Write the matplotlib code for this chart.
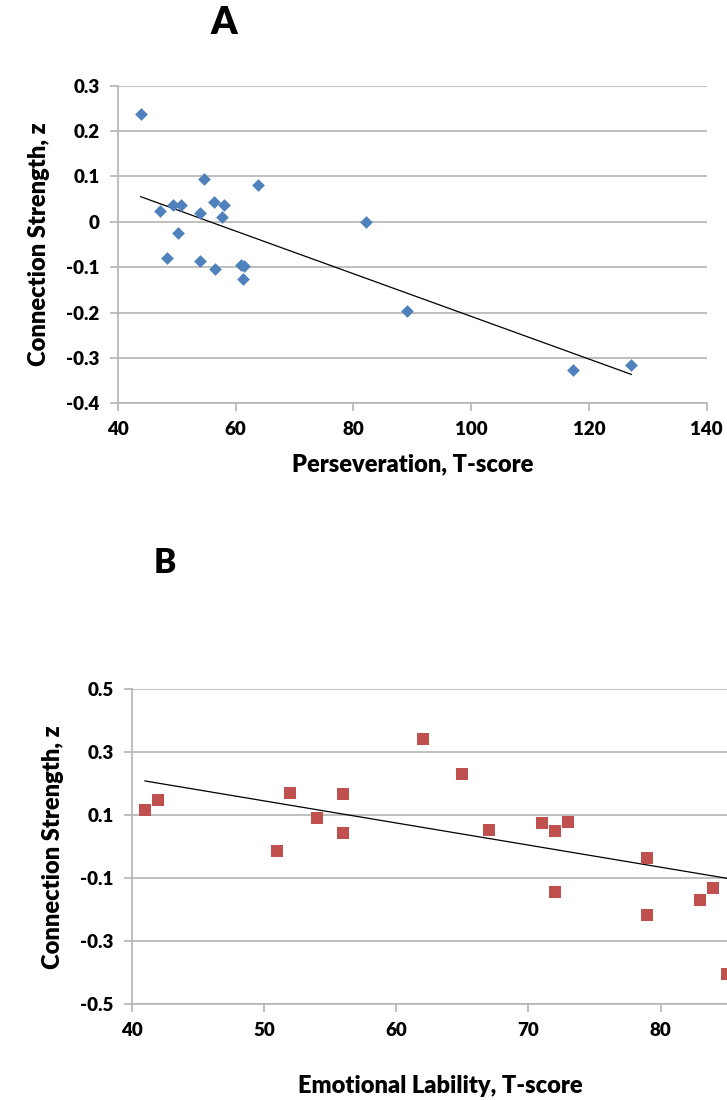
import numpy as np
import matplotlib
matplotlib.use("Agg")
import matplotlib.pyplot as plt
from matplotlib.ticker import FuncFormatter

plt.rcParams['font.family'] = ['Lato', 'DejaVu Sans']
plt.rcParams['font.weight'] = 'bold'
plt.rcParams['axes.unicode_minus'] = False

# panel A: perseveration vs connection strength
persev_t = [43.9, 47.2, 48.3, 49.4, 50.7, 50.3, 54.0, 54.0, 54.6, 56.4, 56.5,
            58.1, 57.7, 61.0, 61.5, 61.3, 63.8, 82.1, 89.2, 117.3, 127.2]
persev_z = [0.238, 0.024, -0.079, 0.037, 0.038, -0.025, 0.020, -0.086, 0.094, 0.043, -0.104,
            0.038, 0.010, -0.095, -0.097, -0.125, 0.082, 0.0, -0.196, -0.326, -0.316]

# panel B: emotional lability vs connection strength
emo_t = [41, 42, 51, 52, 54, 56, 56, 62, 65, 67, 71, 72, 72, 73, 79, 79, 83, 84, 85]
emo_z = [0.116, 0.149, -0.014, 0.170, 0.092, 0.167, 0.043, 0.342, 0.231, 0.054, 0.077,
         0.049, -0.145, 0.080, -0.037, -0.217, -0.169, -0.131, -0.405]
# trend line of B (part of the data is cut off at the right)
emo_trend = [-0.00702, 0.4968]
emo_trend_x = [41, 90]

GRID = '#b4b4b4'
BLUE = '#4f81bd'
RED = '#c0504d'

def fmt(v, pos):
    v = round(v, 2)
    if abs(v) < 1e-9:
        return '0'
    return '%g' % v

def style(ax):
    for s in ['top', 'right']:
        ax.spines[s].set_visible(False)
    for s in ['left', 'bottom']:
        ax.spines[s].set_color(GRID)
        ax.spines[s].set_linewidth(1.2)
    ax.yaxis.grid(True, color=GRID, linewidth=1.2)
    ax.set_axisbelow(True)
    ax.tick_params(axis='both', colors=GRID, length=6, width=1.2, labelsize=13.5,
                   labelcolor='black', pad=7)
    ax.yaxis.set_major_formatter(FuncFormatter(fmt))
    for lab in ax.get_xticklabels() + ax.get_yticklabels():
        lab.set_fontweight('heavy')

fig = plt.figure(figsize=(7.27, 11), dpi=100)

# ---- A ----
axA = fig.add_axes([0.1619, 0.6334, 0.8102, 0.2887])
axA.scatter(persev_t, persev_z, marker='D', s=42, color=BLUE, zorder=3, linewidths=0)
k, b = np.polyfit(persev_t, persev_z, 1)
xa = np.array([min(persev_t), max(persev_t)])
axA.plot(xa, k * xa + b, color='black', linewidth=0.9, zorder=2)
axA.set_xlim(40, 140)
axA.set_ylim(-0.4, 0.3)
axA.set_xticks(np.arange(40, 141, 20))
axA.set_yticks(np.arange(-0.4, 0.31, 0.1))
style(axA)
axA.set_xlabel('Perseveration, T-score', fontsize=17, fontweight='heavy', labelpad=11)
axA.set_ylabel('Connection Strength, z', fontsize=17, fontweight='heavy', labelpad=12)
fig.text(224 / 727, 1 - 23 / 1100, 'A', fontsize=27, fontweight='heavy', ha='center', va='center')

# ---- B ----
axB = fig.add_axes([0.1812, 0.0870, 0.9093, 0.2864])
axB.scatter(emo_t, emo_z, marker='s', s=70, color=RED, zorder=3, linewidths=0, clip_on=False)
xb = np.array(emo_trend_x)
axB.plot(xb, emo_trend[0] * xb + emo_trend[1], color='black', linewidth=0.9, zorder=2)
axB.set_xlim(40, 90)
axB.set_ylim(-0.5, 0.5)
# the 90 tick sits past the right edge of the picture
axB.set_xticks(np.arange(40, 81, 10))
axB.set_yticks(np.arange(-0.5, 0.51, 0.2))
style(axB)
fig.text(298 / 727, 1 - 1086 / 1100, 'Emotional Lability, T-score', fontsize=17,
         fontweight='heavy', ha='left', va='center')
axB.set_ylabel('Connection Strength, z', fontsize=17, fontweight='heavy', labelpad=12)
fig.text(165 / 727, 1 - 563 / 1100, 'B', fontsize=24, fontweight='heavy', ha='center', va='center')

fig.savefig('out.png', dpi=100)
